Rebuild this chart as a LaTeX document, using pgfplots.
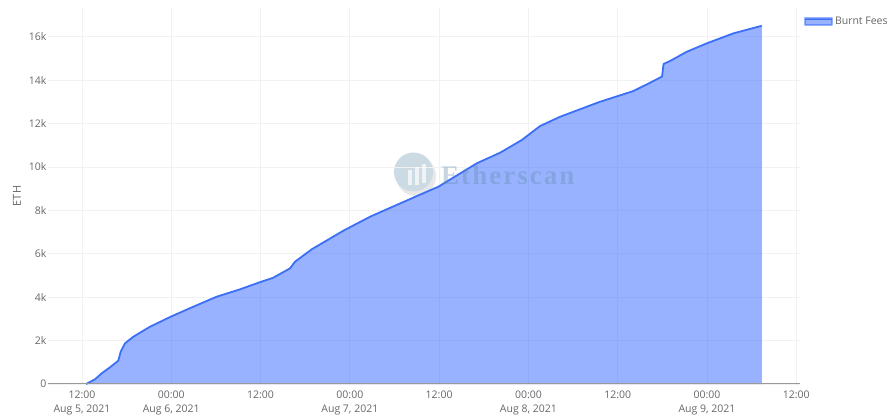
\documentclass[border=0pt]{standalone}
\usepackage{pgfplots}
\pgfplotsset{compat=1.18}
\usepackage{pgfplotstable}
\usepackage{fontspec}
\setmainfont{Open Sans}
\newfontfamily\wmfont[LetterSpace=7.5]{Liberation Serif}
\definecolor{txt}{HTML}{666666}
\definecolor{gridc}{HTML}{F1F1F1}
\definecolor{linec}{HTML}{3B6FF5}
\definecolor{fillc}{HTML}{3366FF}
\definecolor{wm}{HTML}{5B8AA8}
\pgfplotstableread{
h val
0.55 0
1.75 217
2.65 493
3.76 770
4.88 1074
5.2 1488
5.78 1875
6.9 2180
9.14 2640
11.92 3101
14.96 3562
18.1 4023
21.24 4364
23.97 4700
25.7 4898
27.96 5331
28.63 5636
30.87 6207
35.12 7064
38.71 7709
40.95 8050
46.33 8861
47.89 9092
53.05 10170
56.18 10658
59.1 11243
61.56 11888
64.25 12317
69.62 13008
74.1 13501
76.34 13884
77.96 14170
78.16 14746
79.26 14930
81.27 15312
83.96 15699
87.54 16160
91.36 16510
}\fees
\begin{document}
\begin{tikzpicture}[x=1pt,y=1pt]
\path[use as bounding box] (0,0) rectangle (895,418);
% watermark behind the translucent area
\fill[color=black!9] (416,242) circle (20);
\fill[color=wm!32!white] (413.5,246) circle (19.5);
\begin{axis}[
  at={(48pt,34pt)}, anchor=south west,
  scale only axis, width=752pt, height=376pt,
  xmin=-4.57, xmax=96.5, ymin=0, ymax=17330,
  axis line style={draw=none},
  axis x line*=bottom, axis y line*=left,
  tick style={draw=none},
  grid=major, grid style={gridc, line width=0.8pt},
  xtick={0,12,24,36,48,60,72,84,96},
  xticklabels={{12:00\\Aug 5, 2021},{00:00\\Aug 6, 2021},{12:00},{00:00\\Aug 7, 2021},{12:00},{00:00\\Aug 8, 2021},{12:00},{00:00\\Aug 9, 2021},{12:00}},
  xticklabel style={align=center, font=\fontsize{10.5}{14}\selectfont, text=txt, yshift=-3pt, anchor=north},
  ytick={0,2000,4000,6000,8000,10000,12000,14000,16000},
  yticklabels={0,2k,4k,6k,8k,10k,12k,14k,16k},
  yticklabel style={font=\fontsize{10.5}{13}\selectfont, text=txt, xshift=2pt},
  ylabel={ETH},
  every axis y label/.append style={at={(-31pt,188pt)}, anchor=center, font=\fontsize{11}{13}\selectfont, text=txt},
  clip=false,
  legend style={draw=none, fill=none, at={(756pt,369pt)}, anchor=north west, inner sep=0pt,
    font=\fontsize{10.5}{12}\selectfont, text=txt, row sep=0pt},
  legend cell align=left,
  legend image code/.code={
    \fill[fillc, opacity=0.5] (0pt,-3.5pt) rectangle (27pt,3.5pt);
    \draw[linec, line width=1.6pt] (0pt,2pt) -- (27pt,2pt);
  },
]
\addplot[draw=none, fill=fillc, fill opacity=0.5, forget plot] table[x=h,y=val]{\fees} \closedcycle;
\addplot[linec, line width=1.8pt, line join=round] table[x=h,y=val]{\fees};
\addlegendentry{Burnt Fees}
\end{axis}
\draw[color=black!40, line width=1pt] (48,34) -- (800,34);
% watermark on top
\begin{scope}[opacity=0.7]
\fill[white] (408,233) rectangle (411.5,248);
\fill[white] (415,233) rectangle (418.5,251);
\fill[white] (422,235) rectangle (425.5,254);
\end{scope}
\begin{scope}[opacity=0.34]
\node[anchor=base west, inner sep=0pt, text=wm, font=\wmfont\bfseries\fontsize{27}{30}\selectfont] at (441,233) {Etherscan};
\end{scope}
\end{tikzpicture}
\end{document}
